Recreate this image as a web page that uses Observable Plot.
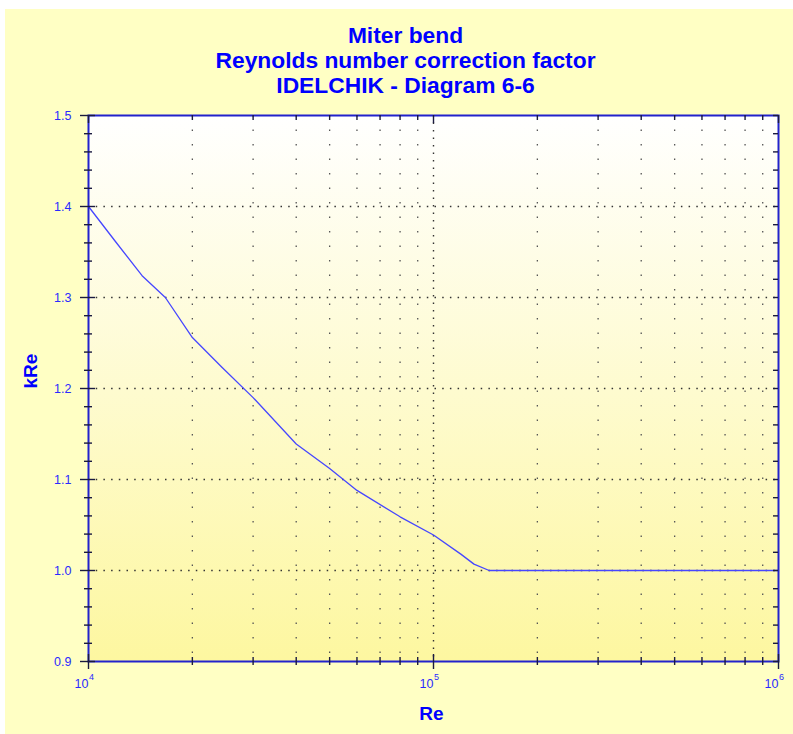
<!DOCTYPE html>
<html>
<head>
<meta charset="utf-8">
<script src="https://cdn.jsdelivr.net/npm/d3@7"></script>
<script src="https://cdn.jsdelivr.net/npm/@observablehq/plot@0.6"></script>
<style>
  html, body { margin: 0; padding: 0; background: #ffffff; }
  #wrap { margin-left: 5px; margin-top: 9px; width: 788px; height: 725px; background: #ffffc4; }
</style>
</head>
<body>
<div id="wrap"></div>
<script>
// ---- data ----
const titleLines = ["Miter bend", "Reynolds number correction factor", "IDELCHIK - Diagram 6-6"];
const xTitle = "Re";
const yTitle = "kRe";
const reValues  = [1e4, 1.2e4, 1.43e4, 1.67e4, 2e4, 2.44e4, 3e4, 4e4, 5e4, 6e4, 8e4, 1e5, 1.2e5, 1.31e5, 1.45e5, 1.6e5, 2e5, 1e6];
const kReValues = [1.400, 1.361, 1.324, 1.300, 1.256, 1.223, 1.190, 1.139, 1.112, 1.088, 1.059, 1.039, 1.018, 1.007, 1.000, 1.000, 1.000, 1.000];
const xDomain = [1e4, 1e6];
const yDomain = [0.9, 1.5];
const xMajor = [1e4, 1e5, 1e6];
const xTickBase = ["10", "10", "10"];
const xTickExp = ["4", "5", "6"];
const xMinor = [2e4, 3e4, 4e4, 5e4, 6e4, 7e4, 8e4, 9e4, 2e5, 3e5, 4e5, 5e5, 6e5, 7e5, 8e5, 9e5];
const yMajor = [0.9, 1.0, 1.1, 1.2, 1.3, 1.4, 1.5];
const yTickLabels = ["0.9", "1.0", "1.1", "1.2", "1.3", "1.4", "1.5"];
const yGrid = [1.0, 1.1, 1.2, 1.3, 1.4];
const yMinor = [0.92, 0.94, 0.96, 0.98, 1.02, 1.04, 1.06, 1.08, 1.12, 1.14, 1.16, 1.18, 1.22, 1.24, 1.26, 1.28, 1.32, 1.34, 1.36, 1.38, 1.42, 1.44, 1.46, 1.48];

const data = reValues.map((re, i) => ({re, k: kReValues[i]}));

const blue = "#0000ff";
const labelBlue = "#2a2aff";
const frameBlue = "#2222cc";
const tickColor = "#1a1a40";
const font = "'Liberation Sans', Arial, sans-serif";

const defs = () => {
  const g = d3.create("svg:defs");
  const lg = g.append("linearGradient").attr("id", "plotbg").attr("x1", 0).attr("y1", 0).attr("x2", 0).attr("y2", 1);
  lg.append("stop").attr("offset", "0%").attr("stop-color", "#ffffff");
  lg.append("stop").attr("offset", "100%").attr("stop-color", "#fdf7a0");
  return g.node();
};

const chart = Plot.plot({
  width: 788,
  height: 725,
  marginLeft: 83,
  marginRight: 15,
  marginTop: 106,
  marginBottom: 73,
  style: {background: "transparent", fontFamily: font},
  x: {type: "log", domain: xDomain, axis: null},
  y: {domain: yDomain, axis: null},
  marks: [
    defs,
    Plot.frame({fill: "url(#plotbg)"}),
    Plot.ruleY(yGrid, {y: d => d, stroke: "#333", strokeWidth: 1.4, strokeDasharray: "1.5,6.2"}),
    Plot.ruleX(xMinor, {x: d => d, stroke: "#555", strokeWidth: 1.3, strokeDasharray: "1.5,13"}),
    Plot.ruleX([1e5], {x: d => d, stroke: "#333", strokeWidth: 1.4, strokeDasharray: "1.5,6"}),
    Plot.line(data, {x: "re", y: "k", stroke: "#4646ff", strokeWidth: 1.3}),
    Plot.frame({stroke: frameBlue, strokeWidth: 2}),
    // left ticks (crossing)
    Plot.ruleY(yMinor, {y: d => d, x1: xDomain[0], x2: xDomain[0], insetLeft: -4, insetRight: -4, stroke: tickColor, strokeWidth: 1.4}),
    Plot.ruleY(yMajor, {y: d => d, x1: xDomain[0], x2: xDomain[0], insetLeft: -8, insetRight: -7, stroke: tickColor, strokeWidth: 1.4}),
    // right ticks (inward)
    Plot.ruleY(yMinor.concat(yMajor), {y: d => d, x1: xDomain[1], x2: xDomain[1], insetLeft: -5, insetRight: 0, stroke: tickColor, strokeWidth: 1.4}),
    // bottom ticks (crossing)
    Plot.ruleX(xMinor, {x: d => d, y1: yDomain[0], y2: yDomain[0], insetTop: -4, insetBottom: -4, stroke: tickColor, strokeWidth: 1.4}),
    Plot.ruleX(xMajor, {x: d => d, y1: yDomain[0], y2: yDomain[0], insetTop: -7, insetBottom: -8, stroke: tickColor, strokeWidth: 1.4}),
    // top ticks (inward)
    Plot.ruleX(xMinor, {x: d => d, y1: yDomain[1], y2: yDomain[1], insetTop: 0, insetBottom: -5, stroke: tickColor, strokeWidth: 1.4}),
    Plot.ruleX(xMajor, {x: d => d, y1: yDomain[1], y2: yDomain[1], insetTop: 0, insetBottom: -8, stroke: tickColor, strokeWidth: 1.4}),
    // y tick labels
    Plot.text(yMajor, {y: d => d, text: (d, i) => yTickLabels[i], frameAnchor: "left", textAnchor: "end", dx: -17, fill: labelBlue, fontSize: 12.5}),
    // x tick labels
    Plot.text(xMajor, {x: d => d, text: (d, i) => xTickBase[i], frameAnchor: "bottom", textAnchor: "end", dx: 0, dy: 26, fill: labelBlue, fontSize: 12.5}),
    Plot.text(xMajor, {x: d => d, text: (d, i) => xTickExp[i], frameAnchor: "bottom", textAnchor: "start", dx: 0.5, dy: 18, fill: labelBlue, fontSize: 9}),
    // axis titles
    Plot.text([xTitle], {text: d => d, frameAnchor: "bottom", dx: -2, dy: 58, fill: blue, fontSize: 19, fontWeight: "bold"}),
    Plot.text([yTitle], {text: d => d, frameAnchor: "left", rotate: -90, dx: -58, fill: blue, fontSize: 19, fontWeight: "bold"}),
    // title
    Plot.text([titleLines.join("\n")], {text: d => d, frameAnchor: "top-left", dx: 317, dy: -90.5, lineAnchor: "top", lineHeight: 1.1, textAnchor: "middle", fill: blue, fontSize: 22.8, fontWeight: "bold"})
  ]
});

document.getElementById("wrap").appendChild(chart);
</script>
</body>
</html>
